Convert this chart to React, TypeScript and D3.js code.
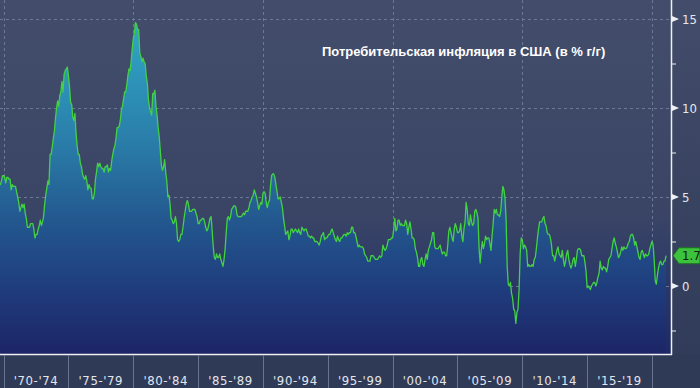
import React from "react";
import * as d3 from "d3";

// US CPI, % y/y, monthly. Each array starts at the month given in its name.
const cpiFromSep1969 = [5.7, 5.7, 5.9, 6.2];
const cpi1970s = [
  6.2, 6.1, 5.8, 6.1, 6.1, 6.0, 6.0, 5.4, 5.7, 5.6, 5.6, 5.6,
  5.3, 5.0, 4.7, 4.2, 4.4, 4.6, 4.4, 4.6, 4.1, 3.8, 3.3, 3.3,
  3.3, 3.5, 3.5, 3.5, 3.2, 2.7, 2.9, 2.9, 3.2, 3.4, 3.7, 3.4,
  3.6, 3.9, 4.6, 5.1, 5.5, 5.9, 5.7, 7.4, 7.4, 7.8, 8.3, 8.7,
  9.4, 10.0, 10.4, 10.1, 10.7, 10.9, 11.5, 10.9, 11.9, 12.1, 12.2, 12.3,
  11.8, 11.2, 10.3, 10.2, 9.5, 9.3, 9.7, 8.6, 7.9, 7.4, 7.4, 6.9,
  6.7, 6.3, 6.1, 6.0, 6.2, 5.9, 5.4, 5.7, 5.5, 5.5, 4.9, 4.9,
  5.2, 6.0, 6.4, 6.9, 6.7, 6.9, 6.7, 6.6, 6.6, 6.4, 6.7, 6.7,
  6.8, 6.4, 6.6, 6.5, 7.0, 7.4, 7.7, 7.9, 8.3, 8.9, 8.9, 9.0,
  9.3, 9.9, 10.1, 10.5, 10.9, 10.9, 11.3, 11.8, 12.2, 12.1, 12.6, 13.3,
];
const cpi1980s = [
  13.9, 14.2, 14.8, 14.7, 14.4, 14.4, 13.1, 12.9, 12.6, 12.8, 12.6, 12.5,
  11.8, 11.4, 10.5, 10.0, 9.8, 9.6, 10.8, 10.8, 11.0, 10.1, 9.6, 8.9,
  8.4, 7.6, 6.8, 6.5, 6.7, 7.1, 6.4, 5.9, 5.0, 5.1, 4.6, 3.8,
  3.7, 3.5, 3.6, 3.9, 3.5, 2.6, 2.5, 2.6, 2.9, 2.9, 3.3, 3.8,
  4.2, 4.6, 4.8, 4.6, 4.2, 4.2, 4.2, 4.3, 4.3, 4.3, 4.1, 3.9,
  3.5, 3.5, 3.7, 3.7, 3.8, 3.8, 3.6, 3.3, 3.1, 3.2, 3.5, 3.8,
  3.9, 3.1, 2.2, 1.6, 1.5, 1.8, 1.6, 1.6, 1.8, 1.5, 1.3, 1.1,
  1.5, 2.1, 3.0, 3.8, 3.9, 3.7, 3.9, 4.3, 4.4, 4.5, 4.5, 4.4,
  4.0, 3.9, 3.9, 3.9, 3.9, 4.0, 4.1, 4.0, 4.2, 4.2, 4.2, 4.4,
  4.7, 4.8, 5.0, 5.1, 5.4, 5.2, 5.0, 4.7, 4.3, 4.5, 4.7, 4.6,
];
const cpi1990s = [
  5.2, 5.3, 5.2, 4.7, 4.4, 4.7, 4.8, 5.6, 6.2, 6.3, 6.3, 6.1,
  5.7, 5.3, 4.9, 4.9, 5.0, 4.7, 4.4, 3.8, 3.4, 2.9, 3.0, 3.1,
  2.6, 2.8, 3.2, 3.2, 3.0, 3.1, 3.2, 3.1, 3.0, 3.2, 3.0, 2.9,
  3.3, 3.2, 3.1, 3.2, 3.2, 3.0, 2.8, 2.8, 2.7, 2.8, 2.7, 2.7,
  2.5, 2.5, 2.5, 2.4, 2.3, 2.5, 2.8, 2.9, 3.0, 2.6, 2.7, 2.7,
  2.8, 2.9, 2.9, 3.1, 3.2, 3.0, 2.8, 2.6, 2.5, 2.8, 2.6, 2.5,
  2.7, 2.7, 2.8, 2.9, 2.9, 2.8, 3.0, 2.9, 3.0, 3.0, 3.3, 3.3,
  3.0, 3.0, 2.8, 2.5, 2.2, 2.3, 2.2, 2.2, 2.2, 2.1, 1.8, 1.7,
  1.6, 1.4, 1.4, 1.4, 1.7, 1.7, 1.7, 1.6, 1.5, 1.5, 1.5, 1.6,
  1.7, 1.6, 1.7, 2.3, 2.1, 2.0, 2.1, 2.3, 2.6, 2.6, 2.6, 2.7,
];
const cpi2000s = [
  2.7, 3.2, 3.8, 3.1, 3.2, 3.7, 3.7, 3.4, 3.5, 3.4, 3.4, 3.4,
  3.7, 3.5, 2.9, 3.3, 3.6, 3.2, 2.7, 2.7, 2.6, 2.1, 1.9, 1.6,
  1.1, 1.1, 1.5, 1.6, 1.2, 1.1, 1.5, 1.8, 1.5, 2.0, 2.2, 2.4,
  2.6, 3.0, 3.0, 2.2, 2.1, 2.1, 2.1, 2.2, 2.3, 2.0, 1.8, 1.9,
  1.9, 1.7, 1.7, 2.3, 3.1, 3.3, 3.0, 2.7, 2.5, 3.2, 3.5, 3.3,
  3.0, 3.0, 3.1, 3.5, 2.8, 2.5, 3.2, 3.6, 4.7, 4.3, 3.5, 3.4,
  4.0, 3.6, 3.4, 3.5, 4.2, 4.3, 4.1, 3.8, 2.1, 1.3, 2.0, 2.5,
  2.1, 2.4, 2.8, 2.6, 2.7, 2.7, 2.4, 2.0, 2.8, 3.5, 4.3, 4.1,
  4.3, 4.0, 4.0, 3.9, 4.2, 5.0, 5.6, 5.4, 4.9, 3.7, 1.1, 0.1,
  0.0, 0.2, -0.4, -0.7, -1.3, -1.4, -2.1, -1.5, -1.3, -0.2, 1.8, 2.7,
];
const cpi2010s = [
  2.6, 2.1, 2.3, 2.2, 2.0, 1.1, 1.2, 1.1, 1.1, 1.2, 1.1, 1.5,
  1.6, 2.1, 2.7, 3.2, 3.6, 3.6, 3.6, 3.8, 3.9, 3.5, 3.4, 3.0,
  2.9, 2.9, 2.7, 2.3, 1.7, 1.7, 1.4, 1.7, 2.0, 2.2, 1.8, 1.7,
  1.6, 2.0, 1.5, 1.1, 1.4, 1.8, 2.0, 1.5, 1.2, 1.0, 1.2, 1.5,
  1.6, 1.1, 1.5, 2.0, 2.1, 2.1, 2.0, 1.7, 1.7, 1.7, 1.3, 0.8,
  -0.1, 0.0, -0.1, -0.2, 0.0, 0.1, 0.2, 0.2, 0.0, 0.2, 0.5, 0.7,
  1.4, 1.0, 0.9, 1.1, 1.0, 1.0, 0.8, 1.1, 1.5, 1.6, 1.7, 2.1,
  2.5, 2.7, 2.4, 2.2, 1.9, 1.6, 1.7, 1.9, 2.2, 2.0, 2.2, 2.1,
  2.1, 2.2, 2.4, 2.5, 2.8, 2.9, 2.9, 2.7, 2.3, 2.5, 2.2, 1.9,
  1.6, 1.5, 1.9, 2.0, 1.8, 1.6, 1.8, 1.7, 1.7, 1.8, 2.1, 2.3,
];
const cpi2020s = [2.5, 2.3, 1.5, 0.3, 0.1, 0.6, 1.0, 1.3, 1.4, 1.2, 1.2, 1.4, 1.4, 1.7];

const periodLabels = ["'70-'74", "'75-'79", "'80-'84", "'85-'89", "'90-'94", "'95-'99", "'00-'04", "'05-'09", "'10-'14", "'15-'19"];
const periodStarts = [1970, 1975, 1980, 1985, 1990, 1995, 2000, 2005, 2010, 2015, 2020];
const gridYears = [1970, 1980, 1990, 2000, 2010, 2020];
const majorTicks = [0, 5, 10, 15];
const minorTicks = [-2.5, 2.5, 7.5, 12.5];
const title = "Потребительская инфляция в США (в % г/г)";

const W = 700;
const H = 388;
const plotRight = 671;
const plotBottom = 354;

type Pt = { t: number; v: number };

const series: Pt[] = [
  ...cpiFromSep1969.map((v, i) => ({ t: 1969 + (8 + i) / 12, v })),
  ...[cpi1970s, cpi1980s, cpi1990s, cpi2000s, cpi2010s, cpi2020s].flatMap((arr, k) =>
    arr.map((v, i) => ({ t: 1970 + k * 10 + i / 12, v }))
  ),
];

export default function App() {
  const x = d3.scaleLinear().domain([1970, 2020]).range([3.6, 652]);
  const y = d3.scaleLinear().domain([0, 15]).range([286, 19]);

  const area = d3
    .area<Pt>()
    .x((d) => x(d.t))
    .y0(plotBottom)
    .y1((d) => y(d.v));
  const line = d3
    .line<Pt>()
    .x((d) => x(d.t))
    .y((d) => y(d.v));

  const last = series[series.length - 1];
  const ly = y(last.v);
  const font = "'DejaVu Sans Condensed', 'DejaVu Sans', sans-serif";

  return (
    <svg
      width={W}
      height={H}
      style={{ position: "absolute", left: 0, top: 0, display: "block" }}
    >
      <defs>
        <linearGradient id="bg" x1="0" y1="0" x2="0" y2="1">
          <stop offset="0" stopColor="#434d6b" />
          <stop offset="1" stopColor="#2e3a57" />
        </linearGradient>
        <linearGradient id="plotbg" gradientUnits="userSpaceOnUse" x1="0" y1="0" x2="0" y2={plotBottom}>
          <stop offset="0" stopColor="#434d6b" />
          <stop offset="0.6" stopColor="#3a4566" />
          <stop offset="0.8" stopColor="#2b3866" />
          <stop offset="1" stopColor="#1e2966" />
        </linearGradient>
        <linearGradient id="fill" gradientUnits="userSpaceOnUse" x1="0" y1="19" x2="0" y2={plotBottom}>
          <stop offset="0" stopColor="#31a8c6" />
          <stop offset="0.35" stopColor="#2a80ab" />
          <stop offset="0.6" stopColor="#23588f" />
          <stop offset="0.8" stopColor="#1f3d7d" />
          <stop offset="1" stopColor="#1c2566" />
        </linearGradient>
        <clipPath id="plotclip">
          <rect x={0} y={0} width={plotRight} height={plotBottom} />
        </clipPath>
      </defs>

      <rect x={0} y={0} width={W} height={H} fill="url(#bg)" />
      <rect x={0} y={0} width={plotRight} height={plotBottom} fill="url(#plotbg)" />
      <rect x={0} y={plotBottom} width={W} height={H - plotBottom} fill="#2f3a57" />

      {/* dotted grid */}
      {majorTicks.map((t) => (
        <line key={"h" + t} x1={0} x2={plotRight} y1={y(t) + 0.5} y2={y(t) + 0.5}
          stroke="#6d7896" strokeDasharray="3,3" />
      ))}
      {gridYears.map((g) => (
        <line key={"v" + g} x1={Math.round(x(g)) + 0.5} x2={Math.round(x(g)) + 0.5} y1={0} y2={plotBottom}
          stroke="#6d7896" strokeDasharray="3,3" />
      ))}

      <g clipPath="url(#plotclip)">
        <path d={area(series) ?? ""} fill="url(#fill)" />
        <path d={line(series) ?? ""} fill="none" stroke="#42d242" strokeWidth={1.3} strokeLinejoin="round" />
      </g>

      {/* frame */}
      <line x1={0} x2={plotRight + 1} y1={plotBottom + 0.5} y2={plotBottom + 0.5} stroke="#eef0f4" strokeWidth={1.5} />
      <line x1={plotRight + 0.5} x2={plotRight + 0.5} y1={0} y2={plotBottom + 1} stroke="#eef0f4" strokeWidth={1.5} />

      {/* period strip */}
      {periodStarts.map((p) => (
        <line key={"s" + p} x1={Math.round(x(p)) + 0.5} x2={Math.round(x(p)) + 0.5} y1={plotBottom + 1} y2={H}
          stroke="#6a7390" />
      ))}
      {periodLabels.map((lab, i) => (
        <text key={lab} x={(x(periodStarts[i]) + x(periodStarts[i + 1])) / 2} y={385}
          textAnchor="middle" fill="#e4e7ee" fontSize={13} letterSpacing={0.6} fontFamily={font}>
          {lab}
        </text>
      ))}

      {/* right axis */}
      {majorTicks.map((t) => (
        <g key={"t" + t}>
          <path d={`M${plotRight + 1},${y(t) - 3} L${plotRight + 8},${y(t)} L${plotRight + 1},${y(t) + 3} Z`} fill="#eef0f4" />
          <text x={plotRight + 11} y={y(t)} dy="0.36em" fill="#e4e7ee" fontSize={13} fontFamily={font}>
            {t}
          </text>
        </g>
      ))}
      {minorTicks.map((t) => (
        <line key={"m" + t} x1={plotRight + 1} x2={plotRight + 5} y1={y(t) + 0.5} y2={y(t) + 0.5} stroke="#eef0f4" />
      ))}

      {/* last value tag */}
      <path
        d={`M${plotRight + 2},${ly} L${plotRight + 8},${ly - 8} L${W},${ly - 8} L${W},${ly + 8} L${plotRight + 8},${ly + 8} Z`}
        fill="#3cc23c" stroke="#1f6e22" strokeWidth={1}
      />
      <text x={plotRight + 11} y={ly} dy="0.36em" fill="#142014" fontSize={13} fontFamily={font}>
        {last.v.toFixed(1)}
      </text>

      <text x={322} y={56} fill="#ffffff" fontSize={13} fontWeight="bold"
        fontFamily="'Liberation Sans', Arial, sans-serif">
        {title}
      </text>
    </svg>
  );
}
